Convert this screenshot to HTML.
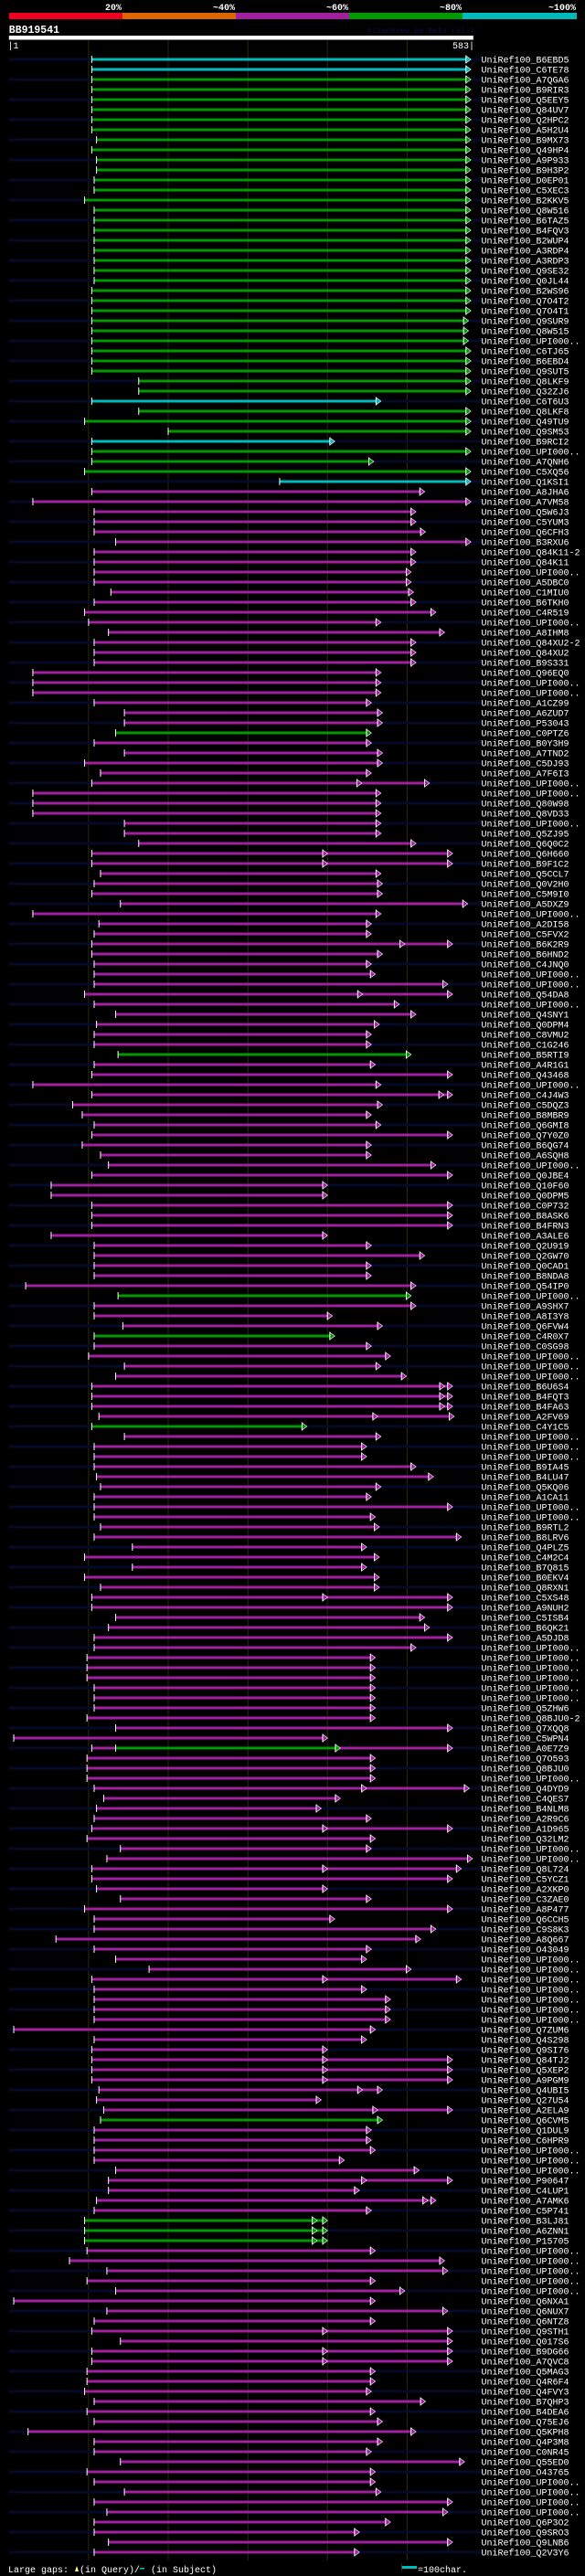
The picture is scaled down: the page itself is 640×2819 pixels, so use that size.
<!DOCTYPE html>
<html><head><meta charset="utf-8">
<style>
html,body{margin:0;padding:0;background:#000;}
svg{display:block;}
text{font-family:"Liberation Mono",monospace;fill:#fff;}
</style></head>
<body>
<svg id="chart" width="640" height="2819" xmlns="http://www.w3.org/2000/svg">
<rect x="0" y="0" width="640" height="2819" fill="#000"/>
<g>
<rect x="9.8" y="14" width="124.2" height="7" fill="#ee0022"/>
<rect x="134" y="14" width="124" height="7" fill="#dd6600"/>
<rect x="258" y="14" width="124" height="7" fill="#a020a0"/>
<rect x="382" y="14" width="124" height="7" fill="#009900"/>
<rect x="506" y="14" width="125" height="7" fill="#00bbbb"/>
<text x="133" y="11" font-size="10" font-weight="bold" text-anchor="end">20%</text>
<text x="257" y="11" font-size="10" font-weight="bold" text-anchor="end">~40%</text>
<text x="381" y="11" font-size="10" font-weight="bold" text-anchor="end">~60%</text>
<text x="505" y="11" font-size="10" font-weight="bold" text-anchor="end">~80%</text>
<text x="630" y="11" font-size="10" font-weight="bold" text-anchor="end">~100%</text>
</g>
<text x="9.8" y="36" font-size="11.5" font-weight="bold">BB919541</text>
<text x="402" y="36" font-size="8.5" style="fill:#101048">AlignView.pm Beta rel.7</text>
<rect x="9.8" y="39" width="508" height="4.5" fill="#fff"/>
<text x="8.5" y="53" font-size="10">|1</text>
<text x="519" y="53" font-size="10" text-anchor="end">583|</text>
<g id="grid"></g>
<g id="rows"></g>
<g>
<text x="9" y="2815" font-size="10">Large gaps:</text>
<path d="M82 2814 L84 2808 L86 2814 Z" fill="#ffff88"/>
<text x="87" y="2815" font-size="10">(in Query)/</text>
<rect x="153" y="2810" width="5" height="1.5" fill="#00bbbb"/>
<text x="165" y="2815" font-size="10">(in Subject)</text>
<rect x="439" y="2808" width="17" height="3" fill="#00bbbb"/>
<rect x="439" y="2805" width="0.8" height="9" fill="#333"/>
<text x="457" y="2815" font-size="10">=100char.</text>
</g>
</svg>
<script>
const gridTicks=[100,200,300,400,500];
const hitNames=["B6EBD5","C6TE78","A7QGA6","B9RIR3","Q5EEY5","Q84UV7","Q2HPC2","A5H2U4","B9MX73","Q49HP4","A9P933","B9H3P2","D0EP01","C5XEC3","B2KKV5","Q8W516","B6TAZ5","B4FQV3","B2WUP4","A3RDP4","A3RDP3","Q9SE32","Q0JL44","B2WS96","Q7O4T2","Q7O4T1","Q9SUR9","Q8W515","UPI000..","C6TJ65","B6EBD4",
"Q9SUT5","Q8LKF9","Q32ZJ6","C6T6U3","Q8LKF8","Q49TU9","Q9SM53","B9RCI2","UPI000..","A7QNH6","C5XQ56","Q1KSI1","A8JHA6","A7VM58","Q5W6J3","C5YUM3","Q6CFH3","B3RXU6","Q84K11-2","Q84K11","UPI000..","A5DBC0","C1MIU0","B6TKH0","C4R519","UPI000..","A8IHM8","Q84XU2-2","Q84XU2","B9S331","Q96EQ0",
"UPI000..","UPI000..","A1CZ99","A6ZUD7","P53043","C0PTZ6","B0Y3H9","A7TND2","C5DJ93","A7F6I3","UPI000..","UPI000..","Q80W98","Q8VD33","UPI000..","Q5ZJ95","Q6Q0C2","Q6H660","B9F1C2","Q5CCL7","Q0V2H0","C5M9I0","A5DXZ9","UPI000..","A2DI58","C5FVX2","B6K2R9","B6HND2","C4JNQ0","UPI000..","UPI000..","Q54DA8",
"UPI000..","Q4SNY1","Q0DPM4","C8VMU2","C1G246","B5RTI9","A4R1G1","Q43468","UPI000..","C4J4W3","C5DQZ3","B8MBR9","Q6GMI8","Q7Y0Z0","B6QG74","A6SQH8","UPI000..","Q0JBE4","Q10F60","Q0DPM5","C0P732","B8ASK6","B4FRN3","A3ALE6","Q2U919","Q2GW70","Q0CAD1","B8NDA8","Q54IP0","UPI000..","A9SHX7",
"A8I3Y8","Q6FVW4","C4R0X7","C0SG98","UPI000..","UPI000..","UPI000..","B6U6S4","B4FQT3","B4FA63","A2FV69","C4Y1C5","UPI000..","UPI000..","UPI000..","B9IA45","B4LU47","Q5KQ06","A1CA11","UPI000..","UPI000..","B9RTL2","B8LRV6","Q4PLZ5","C4M2C4","B7Q815","B0EKV4","Q8RXN1","C5XS48","A9NUH2","C5ISB4","B6QK21",
"A5DJD8","UPI000..","UPI000..","UPI000..","UPI000..","UPI000..","UPI000..","Q5ZHW6","Q8BJU0-2","Q7XQQ8","C5WPN4","A0E7Z9","Q7O593","Q8BJU0","UPI000..","Q4DYD9","C4QES7","B4NLM8","A2R9C6","A1D965","Q32LM2","UPI000..","UPI000..","Q8L724","C5YCZ1","A2XKP0","C3ZAE0","A8P477","Q6CCH5","C9S8K3","A8Q667",
"O43049","UPI000..","UPI000..","UPI000..","UPI000..","UPI000..","UPI000..","UPI000..","Q7ZUM6","Q4S298","Q9SI76","Q84TJ2","Q5XEP2","A9PGM9","Q4UBI5","Q27U54","A2ELA9","Q6CVM5","Q1DUL9","C6HPR9","UPI000..","UPI000..","UPI000..","P90647","C4LUP1","A7AMK6","C5P741","B3LJ81","A6ZNN1","P15705","UPI000..",
"UPI000..","UPI000..","UPI000..","UPI000..","Q6NXA1","Q6NUX7","Q6NTZ8","Q9STH1","Q017S6","B9DG66","A7QVC8","Q5MAG3","Q4R6F4","Q4FVY3","B7QHP3","B4DEA6","Q75EJ6","Q5KPH8","Q4P3M8","C0NR45","Q55ED0","O43765","UPI000..","UPI000..","UPI000..","UPI000..","Q6P3O2","Q9SRO3","Q9LNB6","Q2V3Y6"];
// colour class runs: [letter, count]
const colorRunLetters=["c","g","c","g","c","g","c","m","g","m","g","m","g","m","g","m","g","m","g","m","g","m"];
const colorRunCounts=[2,32,1,3,1,3,1,24,1,31,1,23,1,3,1,8,1,68,1,9,3,31];
const hitStarts=[104,104,104,104,104,104,104,104,110,104,110,110,107,107,95,107,107,107,107,107,107,107,107,104,104,104,104,104,104,104,104,
104,163,163,104,163,95,200,104,104,104,95,340,104,30,107,107,107,134,107,107,107,107,128,107,95,100,125,107,107,107,30,
30,30,107,145,145,134,107,145,95,115,104,30,30,30,145,145,163,104,104,115,107,104,140,30,113,107,104,104,107,107,107,95,
107,134,110,107,107,137,107,104,30,104,80,92,107,104,92,115,125,104,53,53,104,104,104,53,107,107,107,107,21,137,107,
107,143,107,107,100,145,134,104,104,104,113,104,145,107,107,107,110,115,107,107,107,115,107,155,95,155,95,115,104,104,134,125,
107,107,98,98,98,107,107,107,98,134,6,104,98,98,98,107,119,110,107,104,98,140,123,104,104,110,140,95,107,107,59,
107,134,176,104,107,107,107,107,6,107,104,104,104,104,113,110,119,115,107,107,107,107,134,125,125,110,107,95,95,95,98,
76,123,98,134,6,123,107,104,140,104,104,98,98,95,107,98,107,24,107,107,140,98,107,145,107,123,107,107,125,107];
const hitEnds=[574,574,574,574,574,574,574,574,574,574,574,574,574,574,574,574,574,574,574,574,574,574,574,574,574,574,571,571,571,574,574,
574,574,574,461,574,574,574,403,574,452,574,574,516,574,505,505,517,574,505,505,499,499,502,505,530,461,541,505,505,505,461,
461,461,449,463,463,449,449,463,463,449,522,461,461,461,461,461,505,551,551,461,463,463,570,461,449,449,551,463,449,454,545,551,
484,505,459,449,449,499,454,551,461,551,463,449,461,551,449,449,530,551,394,394,551,551,551,394,449,516,449,449,505,499,505,
400,463,403,449,473,461,493,551,551,551,553,368,461,443,443,505,527,461,449,551,454,459,562,443,459,443,459,459,551,551,516,522,
551,505,454,454,454,454,454,454,454,551,394,551,454,454,454,572,410,386,449,551,454,449,576,562,551,394,449,551,403,530,511,
449,443,499,562,443,473,473,473,454,443,394,551,551,551,463,386,551,463,449,449,454,415,509,551,434,530,449,394,394,394,454,
541,545,454,491,454,545,454,551,551,551,551,454,454,449,517,454,463,505,463,449,566,454,454,461,551,545,473,434,551,434];
const midRows=[72,79,80,88,93,103,132,133,134,135,153,172,176,180,191,199,200,201,202,204,211,213,215,216,217,226,228,229];
const midPos=[437,394,394,491,438,540,541,541,541,457,394,443,394,394,394,394,394,394,438,457,443,520,381,381,381,394,394,394];
const overlayRows=[168];
const overlayStart=[134];
const overlayEnd=[410];
const colorMap={c:"#00bbbb",g:"#009900",m:"#a020a0"};
const hitColors=[];
colorRunLetters.forEach((l,k)=>{for(let j=0;j<colorRunCounts[k];j++)hitColors.push(l);});
const NS="http://www.w3.org/2000/svg";
const x0=9.8, pxPerRes=0.871, y0=65, rowH=11;
function xs(p){return x0+p*pxPerRes;}
function ys(i){return y0+i*rowH;}
function mk(tag,attrs,parent){const e=document.createElementNS(NS,tag);for(const k in attrs)e.setAttribute(k,attrs[k]);parent.appendChild(e);return e;}
const grid=document.getElementById('grid');
gridTicks.forEach(t=>{
  const l=mk('line',{x1:xs(t),x2:xs(t),y1:44,y2:2802,stroke:'#2a2a0c','stroke-width':1},grid);
  
  
});
const rows=document.getElementById('rows');
function arrow(g,p,y,col){
  const x=xs(p);
  mk('polygon',{points:`${x},${y-4} ${x+5.5},${y} ${x},${y+4}`,fill:col,stroke:'#fff','stroke-width':0.6},g);
  mk('line',{x1:x,x2:x,y1:y-4.5,y2:y+4.5,stroke:'#fff','stroke-width':1},g);
}
hitNames.forEach((n,i)=>{
  const y=ys(i);
  const col=colorMap[hitColors[i]]||colorMap.m;
  const g=mk('g',{},rows);
  
  
  if(i%2===0){mk('rect',{x:x0,y:y-1.5,width:517,height:3,fill:'#060a2a'},g);}
  const bar=mk('rect',{x:xs(hitStarts[i]),y:y-1.5,width:Math.max(1,xs(hitEnds[i])-xs(hitStarts[i])),height:3,fill:col},g);
  
  
  const oi=overlayRows.indexOf(i);
  if(oi>=0){mk('rect',{x:xs(overlayStart[oi]),y:y-1.5,width:xs(overlayEnd[oi])-xs(overlayStart[oi]),height:3,fill:colorMap.g},g);
    mk('line',{x1:xs(overlayStart[oi]),x2:xs(overlayStart[oi]),y1:y-4,y2:y+4,stroke:'#fff','stroke-width':1},g);
    arrow(g,overlayEnd[oi],y,colorMap.g);}
  mk('line',{x1:xs(hitStarts[i]),x2:xs(hitStarts[i]),y1:y-4,y2:y+4,stroke:'#fff','stroke-width':1},g);
  midRows.forEach((r,k)=>{if(r===i)arrow(g,midPos[k],y,col);});
  arrow(g,hitEnds[i],y,col);
  const t=mk('text',{x:526.5,y:y+3.5,'font-size':10},g);
  t.textContent='UniRef100_'+n;
  
  
});
</script>
</body></html>
